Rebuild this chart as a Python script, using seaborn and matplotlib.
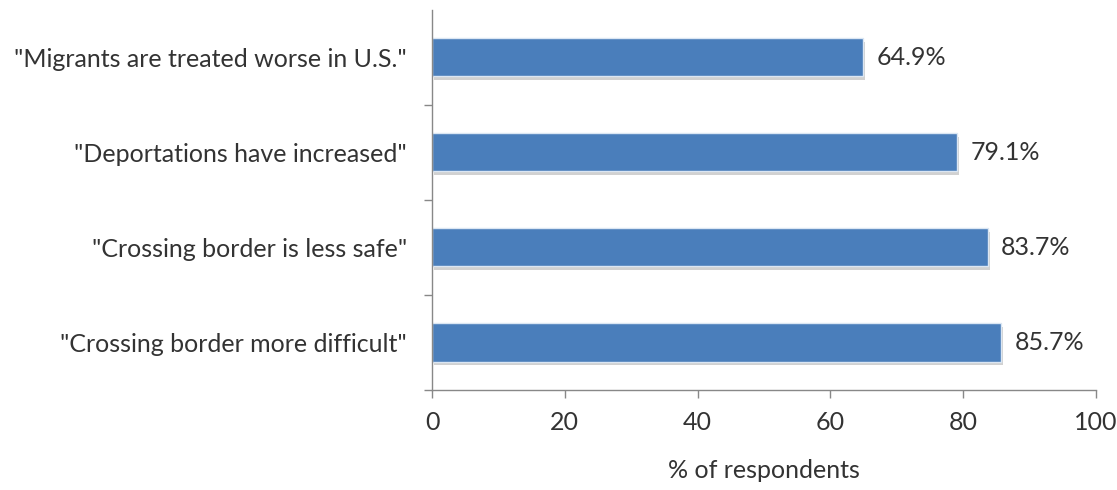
import matplotlib
matplotlib.use("Agg")
import matplotlib.pyplot as plt
import matplotlib.patheffects as pe
from matplotlib.ticker import FixedLocator
import seaborn as sns
import pandas as pd

statements = [
    '"Migrants are treated worse in U.S."',
    '"Deportations have increased"',
    '"Crossing border is less safe"',
    '"Crossing border more difficult"',
]
shares = [64.9, 79.1, 83.7, 85.7]
x_ticks = [0, 20, 40, 60, 80, 100]

df = pd.DataFrame({"statement": statements, "share": shares})

sns.set_theme(style="white")
plt.rcParams["font.family"] = ["Lato", "DejaVu Sans"]

FS = 18
TXT = "#333333"

fig = plt.figure(figsize=(11.17, 4.9), dpi=100)
ax = fig.add_axes([0.3868, 0.204, 0.5944, 0.776])

sns.barplot(data=df, y="statement", x="share", orient="h", color="#4a7ebb",
            width=0.4, edgecolor="#dbe6f3", linewidth=1.0, ax=ax, saturation=1)

for patch in ax.patches:
    patch.set_path_effects([pe.SimplePatchShadow(offset=(1.5, -2.5), shadow_rgbFace="#000000", alpha=0.18), pe.Normal()])

for i, v in enumerate(shares):
    ax.text(v + 2.0, i, f"{v:.1f}%", va="center", ha="left", fontsize=FS, color=TXT)

ax.set_xlim(0, 100)
ax.set_ylim(3.5, -0.5)
ax.set_xticks(x_ticks)
ax.set_xticklabels([str(t) for t in x_ticks], fontsize=FS, color=TXT)
ax.set_yticklabels(statements, fontsize=FS, color=TXT)
ax.yaxis.set_minor_locator(FixedLocator([0.5, 1.5, 2.5, 3.5]))
ax.tick_params(axis="y", which="major", length=0, pad=18)
ax.tick_params(axis="y", which="minor", length=6, width=1, color="#888888", left=True)
ax.tick_params(axis="x", length=6, width=1, color="#888888", bottom=True, pad=9)
ax.set_ylabel("")
ax.set_xlabel("% of respondents", fontsize=FS, color=TXT, labelpad=18)

for side in ["top", "right"]:
    ax.spines[side].set_visible(False)
for side in ["left", "bottom"]:
    ax.spines[side].set_color("#888888")
    ax.spines[side].set_linewidth(1)

fig.savefig("out.png", dpi=100)
